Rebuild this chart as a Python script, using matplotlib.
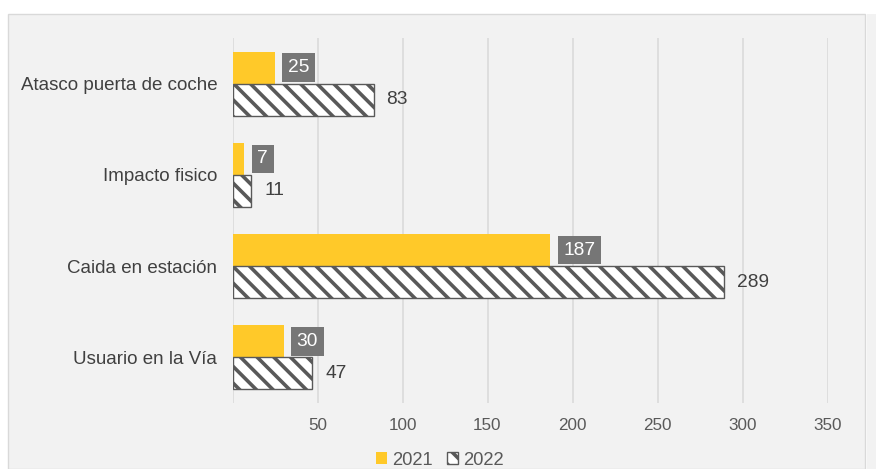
import numpy as np
import matplotlib.pyplot as plt
from matplotlib.patches import Rectangle

categories = ['Usuario en la Vía', 'Caida en estación', 'Impacto fisico', 'Atasco puerta de coche']
v2021 = [30, 187, 7, 25]
v2022 = [47, 289, 11, 83]
xticks = [0, 50, 100, 150, 200, 250, 300, 350]

plt.rcParams['font.family'] = ['Liberation Sans', 'DejaVu Sans']
plt.rcParams['hatch.linewidth'] = 2.6
plt.rcParams['hatch.color'] = '#595959'

DPI = 100
fig = plt.figure(figsize=(876 / DPI, 469 / DPI), dpi=DPI, facecolor='white')

# grey chart panel
W, H = 876, 469
fig.patches.append(Rectangle((8 / W, 0), (865 - 8) / W, (H - 14) / H, transform=fig.transFigure,
                             facecolor='#f2f2f2', edgecolor='#d9d9d9', lw=1, zorder=-5))
fig.patches.append(Rectangle((867 / W, 0), 10 / W, (H - 14) / H, transform=fig.transFigure,
                             facecolor='#f2f2f2', edgecolor='none', zorder=-5))

ax = fig.add_axes([232.5 / W, 1 - 403 / H, 595 / W, 365 / H])
ax.set_facecolor('none')

y = np.arange(len(categories))
h = 0.35
b1 = ax.barh(y + h / 2, v2021, h, color='#FFC929', label='2021', zorder=3)
b2 = ax.barh(y - h / 2, v2022, h, color='white', edgecolor='#595959', hatch='\\\\',
             linewidth=1, label='2022', zorder=3)

for yy, v in zip(y + h / 2, v2021):
    ax.annotate(str(v), (v, yy), xytext=(13, 0), textcoords='offset pixels',
                va='center', ha='left', fontsize=13.8, color='white',
                bbox=dict(boxstyle='square,pad=0.3', fc='#767676', ec='none'), zorder=4)
for yy, v in zip(y - h / 2, v2022):
    ax.annotate(str(v), (v, yy), xytext=(13, 0), textcoords='offset pixels',
                va='center', ha='left', fontsize=13.8, color='#404040', zorder=4)

ax.set_xlim(0, 350)
ax.set_ylim(-0.5, 3.5)
ax.set_xticks(xticks)
ax.set_xticklabels([''] + [str(t) for t in xticks[1:]])
ax.set_yticks(y)
ax.set_yticklabels(categories)
ax.tick_params(axis='x', length=0, pad=11, labelsize=12.3, labelcolor='#595959')
ax.tick_params(axis='y', length=0, pad=11, labelsize=13.5, labelcolor='#404040')
ax.grid(axis='x', color='#d9d9d9', linewidth=1.1, zorder=0)
ax.set_axisbelow(True)
for s in ax.spines.values():
    s.set_visible(False)

fig.legend(handles=[b1, b2], labels=['2021', '2022'], loc='center',
           bbox_to_anchor=(440 / W, 1 - 460 / H), ncol=2, frameon=False,
           fontsize=13.2, labelcolor='#595959', handlelength=0.6, handleheight=0.6,
           handletextpad=0.25, columnspacing=0.8)

fig.savefig('out.png', dpi=DPI, facecolor='white')
